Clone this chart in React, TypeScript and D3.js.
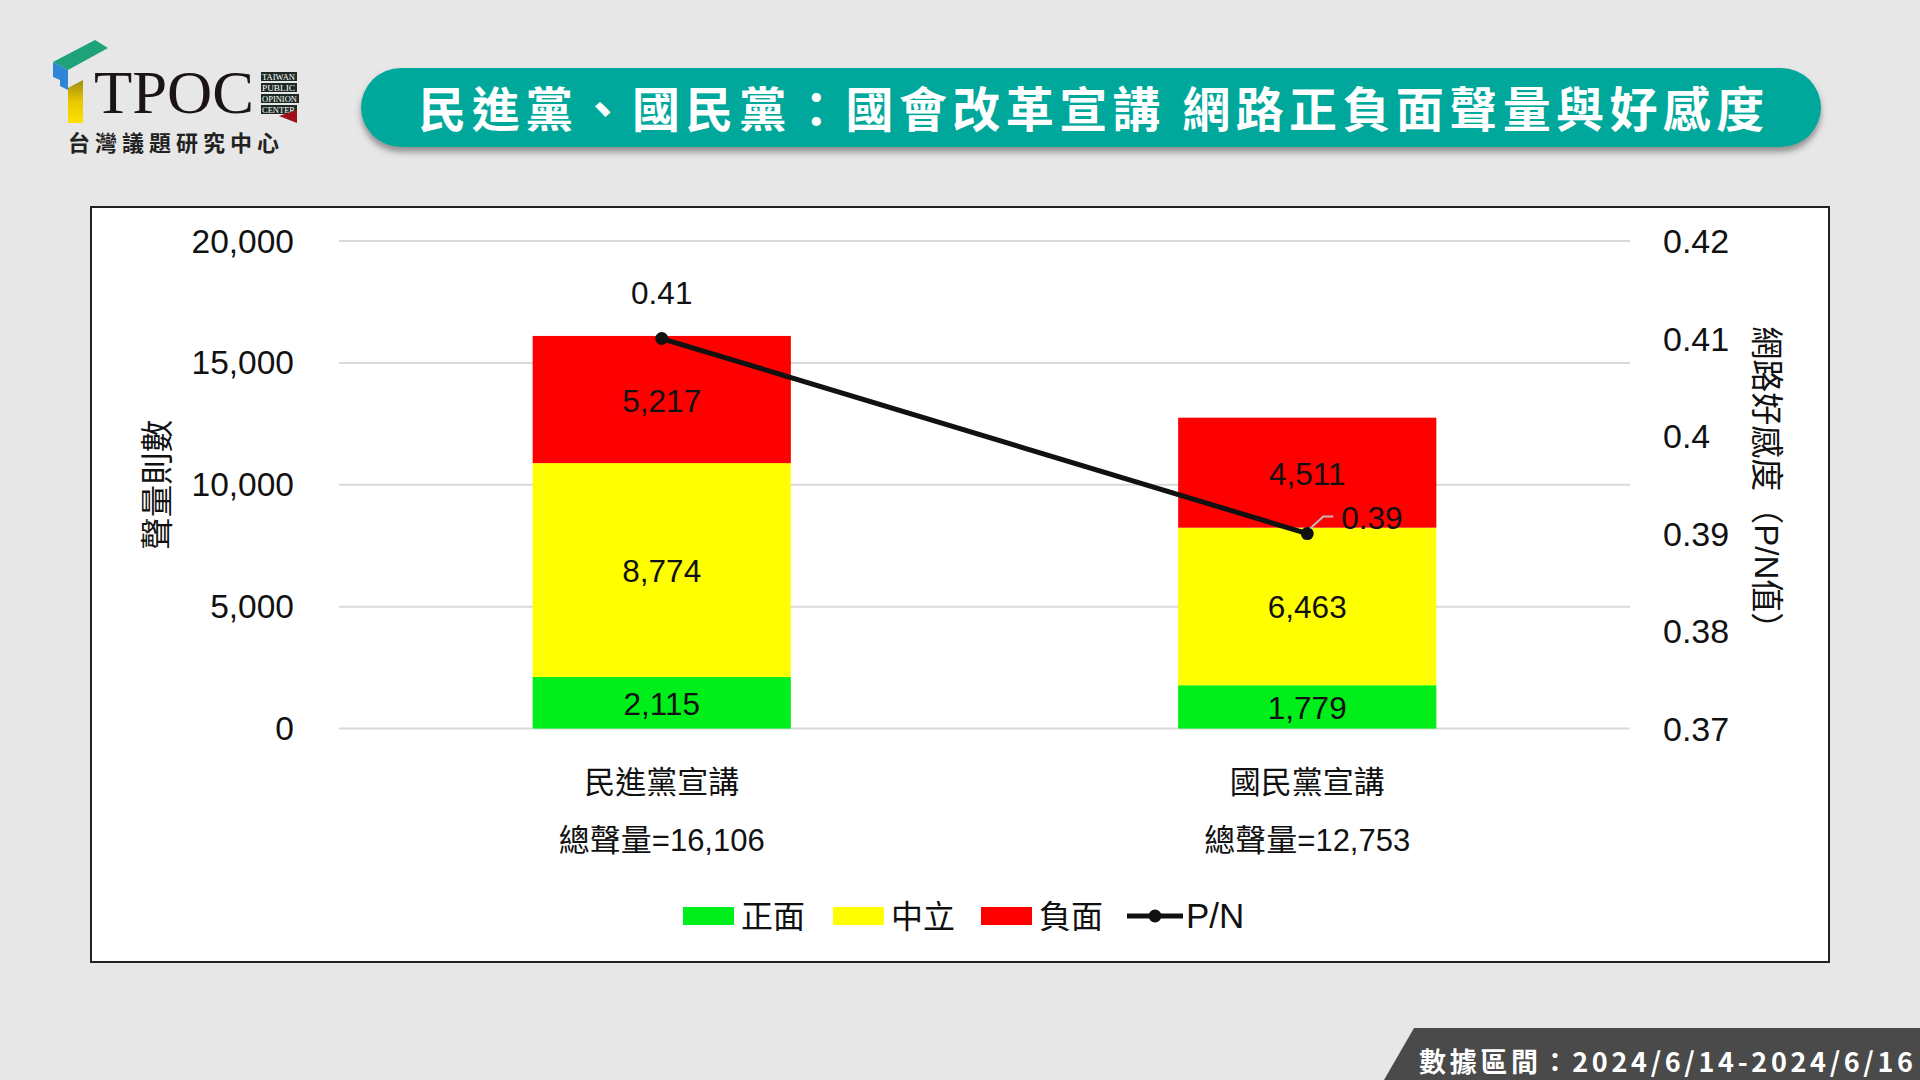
import React from "react";
import * as d3 from "d3";

const categories = ["民進黨宣講", "國民黨宣講"];
const positive = [2115, 1779];
const neutral = [8774, 6463];
const negative = [5217, 4511];
const pnValues = [0.41, 0.39];
const leftTicks = [0, 5000, 10000, 15000, 20000];
const rightTicks = [0.37, 0.38, 0.39, 0.4, 0.41, 0.42];
const seriesNames = ["正面", "中立", "負面"];
const seriesColors = ["#00EE1A", "#FFFF00", "#FF0000"];

const FONT = "'Liberation Sans', 'Noto Sans CJK TC', sans-serif";
const CJK = "'Noto Sans CJK TC', sans-serif";

export default function App() {
  const W = 1920, H = 1080;
  const plotL = 339, plotR = 1630, plotT = 241, plotB = 728.6;

  const x = d3.scaleBand<string>().domain(categories).range([plotL, plotR]).paddingInner(0.6).paddingOuter(0.3);
  const yL = d3.scaleLinear().domain([0, 20000]).range([plotB, plotT]);
  const yR = d3.scaleLinear().domain([0.37, 0.42]).range([plotB, plotT]);
  const fmt = d3.format(",");

  const rows = categories.map((c, i) => ({ cat: c, 正面: positive[i], 中立: neutral[i], 負面: negative[i] }));
  const stacked = d3.stack<any>().keys(seriesNames)(rows);

  const linePts = categories.map((c, i) => [x(c)! + x.bandwidth() / 2, yR(pnValues[i])] as [number, number]);
  const lineGen = d3.line();

  const legendX = [683, 833, 981];

  return (
    <svg width={W} height={H} style={{ position: "absolute", left: 0, top: 0, display: "block" }} xmlns="http://www.w3.org/2000/svg">
      <defs>
        <filter id="shadow" x="-5%" y="-20%" width="110%" height="160%">
          <feDropShadow dx="0" dy="5" stdDeviation="3" floodColor="#555" floodOpacity="0.6" />
        </filter>
        <linearGradient id="yel" x1="0" y1="0" x2="0" y2="1">
          <stop offset="0" stopColor="#a08a10" />
          <stop offset="0.5" stopColor="#e8c800" />
          <stop offset="1" stopColor="#ffe000" />
        </linearGradient>
      </defs>
      <rect x={0} y={0} width={W} height={H} fill="#e7e7e7" />

      {/* Logo */}
      <g>
        <polygon points="53,62 95,40 108,48 68,70" fill="#1fa27a" />
        <polygon points="53,62 68,70 68,90 60,86 60,80 53,77" fill="#2f86d6" />
        <polygon points="68,88 83,80 83,123 68,123" fill="url(#yel)" />
        <text x={94} y={113} fontFamily="'Liberation Serif', 'DejaVu Serif', serif" fontSize={61} fill="#1a1414" textLength={160} lengthAdjust="spacingAndGlyphs">TPOC</text>
        {["TAIWAN", "PUBLIC", "OPINION", "CENTER"].map((t, i) => (
          <g key={t}>
            <rect x={261} y={72 + i * 11} width={i === 2 ? 38 : 36} height={9} fill="#1d2a23" />
            <text x={262} y={79.5 + i * 11} fontFamily="'Liberation Serif', serif" fontSize={8} fill="#fff" textLength={i === 2 ? 35 : 33} lengthAdjust="spacingAndGlyphs">{t}</text>
          </g>
        ))}
        <polygon points="279,116 297,110 297,123" fill="#a0101a" />
        <text x={68} y={151} fontFamily={CJK} fontWeight={700} fontSize={22} fill="#222" letterSpacing={5}>台灣議題研究中心</text>
      </g>

      {/* Title banner */}
      <rect x={361} y={68} width={1460} height={79} rx={40} ry={40} fill="#00A89B" filter="url(#shadow)" />
      <text x={1094} y={106} textAnchor="middle" dominantBaseline="central" fontFamily={CJK} fontWeight={700} fontSize={48} fill="#fff" letterSpacing={5.4}>
        民進黨、國民黨：國會改革宣講 網路正負面聲量與好感度
      </text>

      {/* Chart frame */}
      <rect x={91} y={207} width={1738} height={755} fill="#fff" stroke="#222" strokeWidth={2} />

      {/* Gridlines */}
      {leftTicks.map((t) => (
        <line key={t} x1={plotL} x2={plotR} y1={yL(t)} y2={yL(t)} stroke="#d9d9d9" strokeWidth={2} />
      ))}

      {/* Left ticks */}
      {leftTicks.map((t) => (
        <text key={t} x={294} y={yL(t)} textAnchor="end" dominantBaseline="central" fontFamily={FONT} fontSize={33.5} fill="#111">{fmt(t)}</text>
      ))}
      {/* Right ticks */}
      {rightTicks.map((t) => (
        <text key={t} x={1663} y={yR(t)} textAnchor="start" dominantBaseline="central" fontFamily={FONT} fontSize={34} fill="#111">{String(t)}</text>
      ))}

      {/* Axis titles */}
      <text transform={`translate(154,${(plotT + plotB) / 2}) rotate(-90)`} textAnchor="middle" dominantBaseline="central" fontFamily={CJK} fontSize={32.5} fill="#111">聲量則數</text>
      <text transform={`translate(1766,${(plotT + plotB) / 2 + 1}) rotate(90)`} textAnchor="middle" dominantBaseline="central" fontFamily={FONT} fontSize={33} fill="#111">網路好感度（P/N值）</text>

      {/* Bars */}
      {stacked.map((s, si) => (
        <g key={s.key}>
          {s.map((d, i) => (
            <rect key={i} x={x(categories[i])} width={x.bandwidth()} y={yL(d[1])} height={yL(d[0]) - yL(d[1])} fill={seriesColors[si]} />
          ))}
        </g>
      ))}
      {stacked.map((s) => (
        <g key={s.key + "l"}>
          {s.map((d, i) => (
            <text key={i} x={x(categories[i])! + x.bandwidth() / 2} y={(yL(d[0]) + yL(d[1])) / 2 + 1} textAnchor="middle" dominantBaseline="central" fontFamily={FONT} fontSize={31.5} fill="#111">
              {fmt(d[1] - d[0])}
            </text>
          ))}
        </g>
      ))}

      {/* Line */}
      <path d={lineGen(linePts) || ""} fill="none" stroke="#111" strokeWidth={5} />
      {linePts.map((p, i) => (
        <circle key={i} cx={p[0]} cy={p[1]} r={6.5} fill="#111" />
      ))}
      <text x={linePts[0][0]} y={linePts[0][1] - 46} textAnchor="middle" dominantBaseline="central" fontFamily={FONT} fontSize={31.5} fill="#111">{d3.format(".2f")(pnValues[0])}</text>
      <polyline points={`${linePts[1][0] + 3},${linePts[1][1] - 5} ${linePts[1][0] + 16},${linePts[1][1] - 17} ${linePts[1][0] + 26},${linePts[1][1] - 17}`} fill="none" stroke="#bbb" strokeWidth={2} />
      <text x={linePts[1][0] + 34} y={linePts[1][1] - 16} textAnchor="start" dominantBaseline="central" fontFamily={FONT} fontSize={31.5} fill="#111">{d3.format(".2f")(pnValues[1])}</text>

      {/* Category labels */}
      {categories.map((c, i) => {
        const cx = x(c)! + x.bandwidth() / 2;
        const total = positive[i] + neutral[i] + negative[i];
        return (
          <g key={c}>
            <text x={cx} y={779} textAnchor="middle" dominantBaseline="central" fontFamily={CJK} fontSize={31} fill="#111">{c}</text>
            <text x={cx} y={840} textAnchor="middle" dominantBaseline="central" fontFamily={FONT} fontSize={31} fill="#111">{"總聲量=" + fmt(total)}</text>
          </g>
        );
      })}

      {/* Legend */}
      {seriesNames.map((n, i) => (
        <g key={n}>
          <rect x={legendX[i]} y={907} width={51} height={18} fill={seriesColors[i]} />
          <text x={legendX[i] + 58} y={914} dominantBaseline="central" fontFamily={CJK} fontSize={32} fill="#111">{n}</text>
        </g>
      ))}
      <line x1={1127} x2={1183} y1={916} y2={916} stroke="#111" strokeWidth={5} />
      <circle cx={1155} cy={916} r={6.5} fill="#111" />
      <text x={1186} y={915} dominantBaseline="central" fontFamily={FONT} fontSize={35} fill="#111">P/N</text>

      {/* Date banner */}
      <polygon points="1414,1028 1920,1028 1920,1080 1384,1080" fill="#4a4a4a" />
      <text x={1419} y={1060} dominantBaseline="central" fontFamily={CJK} fontWeight={700} fontSize={27} fill="#fff" textLength={494} lengthAdjust="spacing">數據區間：2024/6/14-2024/6/16</text>
    </svg>
  );
}
